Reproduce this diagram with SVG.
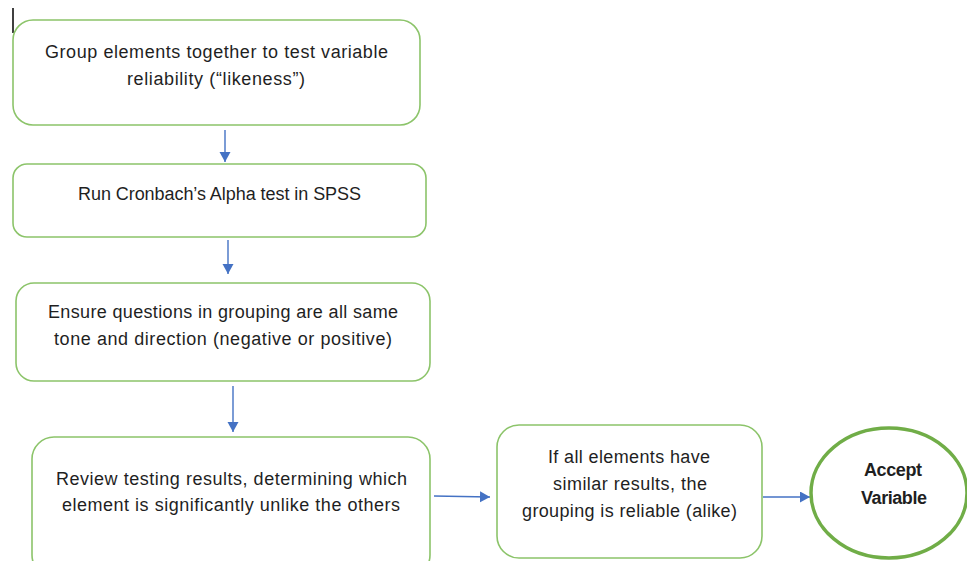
<svg xmlns="http://www.w3.org/2000/svg" width="967" height="561" viewBox="0 0 967 561">
<style>
.box{fill:#fff;stroke:#8cc46a;stroke-width:1.6}
.t{font-family:"Liberation Sans",Arial,sans-serif;font-size:18px;fill:#1f1f1f;text-anchor:middle}
.b{font-weight:bold}
.c{stroke:#4472c4;stroke-width:1.4;fill:none}
</style>
<defs>
<marker id="ah" markerWidth="10" markerHeight="12" refX="10" refY="5.5" orient="auto" markerUnits="userSpaceOnUse">
<path d="M0,0 L10,5.5 L0,11 z" fill="#4472c4"/>
</marker>
</defs>
<rect width="967" height="561" fill="#fff"/>
<line x1="13" y1="8" x2="13" y2="33" stroke="#000" stroke-width="1.5"/>
<circle cx="19" cy="47" r="1.2" fill="#3344dd"/>
<g id="connectors">
<line class="c" x1="225" y1="130" x2="225" y2="162" marker-end="url(#ah)"/>
<line class="c" x1="228" y1="240" x2="228" y2="274" marker-end="url(#ah)"/>
<line class="c" x1="233" y1="386" x2="233" y2="432" marker-end="url(#ah)"/>
<line class="c" x1="434" y1="496" x2="490" y2="497" marker-end="url(#ah)"/>
<line class="c" x1="763" y1="497" x2="810" y2="497" marker-end="url(#ah)"/>
</g>
<g id="n1">
<rect class="box" x="13" y="20" width="407" height="105" rx="20"/>
<text class="t" x="216.5" y="58" textLength="343">Group elements together to test variable</text>
<text class="t" x="216" y="85" textLength="178">reliability (“likeness”)</text>
</g>
<g id="n2">
<rect class="box" x="13" y="164" width="413" height="73" rx="14"/>
<text class="t" x="219.5" y="200" textLength="283">Run Cronbach’s Alpha test in SPSS</text>
</g>
<g id="n3">
<rect class="box" x="16" y="283" width="414" height="98" rx="18"/>
<text class="t" x="223" y="318" textLength="350">Ensure questions in grouping are all same</text>
<text class="t" x="223" y="345" textLength="338">tone and direction (negative or positive)</text>
</g>
<g id="n4">
<rect class="box" x="32" y="437" width="398" height="140" rx="22"/>
<text class="t" x="231.5" y="485" textLength="351">Review testing results, determining which</text>
<text class="t" x="231" y="511" textLength="338">element is significantly unlike the others</text>
</g>
<g id="n5">
<rect class="box" x="497" y="425" width="265" height="133" rx="22"/>
<text class="t" x="629" y="463" textLength="162">If all elements have</text>
<text class="t" x="630" y="490" textLength="154">similar results, the</text>
<text class="t" x="629.5" y="517" textLength="215">grouping is reliable (alike)</text>
</g>
<g id="n6">
<ellipse cx="889" cy="493" rx="78" ry="65" fill="#fff" stroke="#70ad47" stroke-width="3.5"/>
<text class="t b" x="893" y="476" textLength="58">Accept</text>
<text class="t b" x="894" y="504" textLength="66">Variable</text>
</g>
</svg>
